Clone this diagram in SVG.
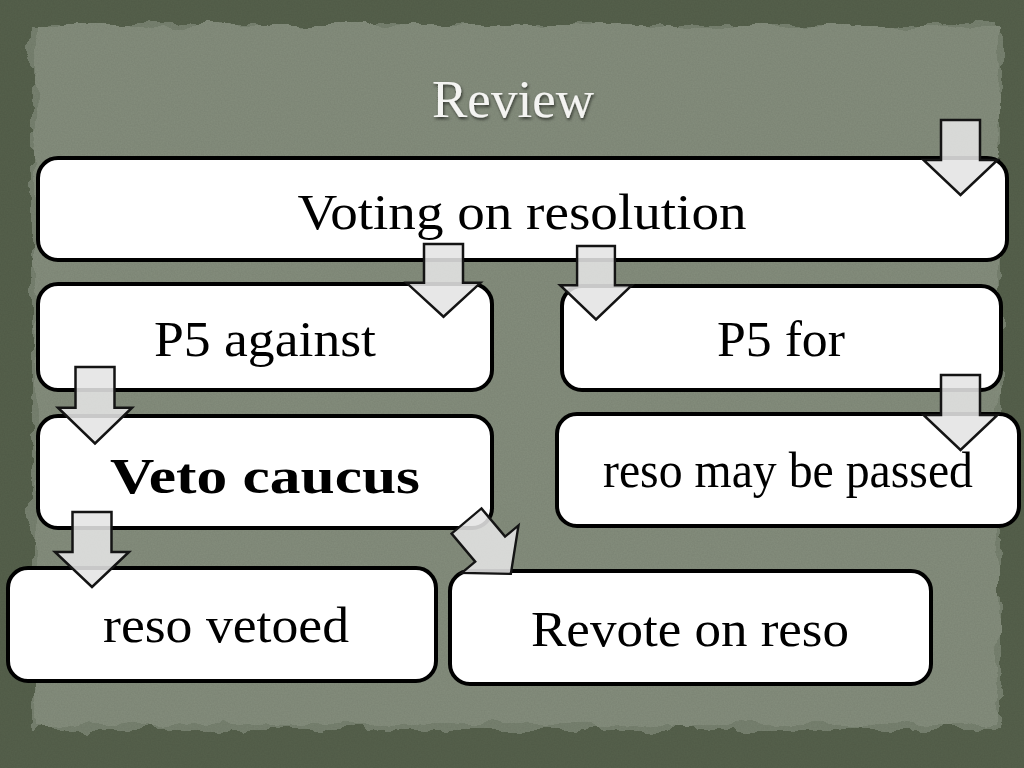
<svg xmlns="http://www.w3.org/2000/svg" width="1024" height="768" viewBox="0 0 1024 768">
  <defs>
    <filter id="rough" x="-5%" y="-5%" width="110%" height="110%">
      <feTurbulence type="fractalNoise" baseFrequency="0.025" numOctaves="4" seed="7" result="n"/>
      <feDisplacementMap in="SourceGraphic" in2="n" scale="16" xChannelSelector="R" yChannelSelector="G"/>
    </filter>
    <filter id="rough2" x="-5%" y="-5%" width="110%" height="110%">
      <feTurbulence type="fractalNoise" baseFrequency="0.03" numOctaves="4" seed="11" result="n"/>
      <feDisplacementMap in="SourceGraphic" in2="n" scale="20" xChannelSelector="R" yChannelSelector="G"/>
    </filter>
    <filter id="grain" x="0" y="0" width="100%" height="100%">
      <feTurbulence type="fractalNoise" baseFrequency="0.7" numOctaves="2" seed="3" result="t"/>
      <feColorMatrix in="t" type="matrix" values="0 0 0 0 0  0 0 0 0 0  0 0 0 0 0  0 0 0 0.08 0"/>
    </filter>
    <filter id="shadow" x="-10%" y="-20%" width="120%" height="140%">
      <feGaussianBlur in="SourceAlpha" stdDeviation="1.5"/>
      <feOffset dx="1" dy="2" result="b"/>
      <feColorMatrix in="b" type="matrix" values="0 0 0 0 0  0 0 0 0 0  0 0 0 0 0  0 0 0 0.6 0" result="s"/>
      <feMerge><feMergeNode in="s"/><feMergeNode in="SourceGraphic"/></feMerge>
    </filter>
    <path id="arrow" d="M -19.5 0 L 19.5 0 L 19.5 40 L 37 40 L 0 75 L -37 40 L -19.5 40 Z"/>
  </defs>
  <style>
    .box { fill: #ffffff; stroke: #000000; stroke-width: 4; }
    .lbl { font-family: "Liberation Serif", "Times New Roman", serif; fill: #000000; text-anchor: middle; font-size: 50px; }
    .arr { fill: #e4e4e4; fill-opacity: 0.88; stroke: #141414; stroke-width: 2.5; stroke-linejoin: miter; }
    .title { font-family: "Liberation Serif", "Times New Roman", serif; fill: #f4f4f2; font-size: 52px; text-anchor: middle; }
  </style>

  <g id="background">
    <rect x="0" y="0" width="1024" height="768" fill="#56614c"/>
    <rect x="32" y="26" width="968" height="704" fill="#78826f" filter="url(#rough2)"/>
    <rect x="36" y="26" width="962" height="698" fill="#858e7d" filter="url(#rough)"/>
    <rect x="0" y="0" width="1024" height="768" fill="#000" filter="url(#grain)"/>
  </g>

  <g id="title">
    <text class="title" x="513" y="117" textLength="162" lengthAdjust="spacingAndGlyphs" filter="url(#shadow)">Review</text>
  </g>

  <g id="node-voting">
    <rect class="box" x="38" y="158" width="969" height="102" rx="20"/>
    <text class="lbl" x="522" y="229" textLength="449" lengthAdjust="spacingAndGlyphs">Voting on resolution</text>
  </g>

  <g id="node-p5-against">
    <rect class="box" x="38" y="284" width="454" height="106" rx="20"/>
    <text class="lbl" x="265" y="356" textLength="222" lengthAdjust="spacingAndGlyphs">P5 against</text>
  </g>

  <g id="node-p5-for">
    <rect class="box" x="562" y="286" width="439" height="104" rx="20"/>
    <text class="lbl" x="781" y="356" textLength="128" lengthAdjust="spacingAndGlyphs">P5 for</text>
  </g>

  <g id="node-veto">
    <rect class="box" x="38" y="416" width="454" height="112" rx="20"/>
    <text class="lbl" x="265" y="493" font-weight="bold" font-size="56" textLength="310" lengthAdjust="spacingAndGlyphs">Veto caucus</text>
  </g>

  <g id="node-passed">
    <rect class="box" x="557" y="414" width="462" height="112" rx="20"/>
    <text class="lbl" x="788" y="487" font-size="44" textLength="370" lengthAdjust="spacingAndGlyphs">reso may be passed</text>
  </g>

  <g id="node-vetoed">
    <rect class="box" x="8" y="568" width="428" height="113" rx="20"/>
    <text class="lbl" x="226" y="642" textLength="246" lengthAdjust="spacingAndGlyphs">reso vetoed</text>
  </g>

  <g id="node-revote">
    <rect class="box" x="450" y="571" width="481" height="113" rx="20"/>
    <text class="lbl" x="690" y="646" textLength="318" lengthAdjust="spacingAndGlyphs">Revote on reso</text>
  </g>

  <g id="connectors">
    <use href="#arrow" class="arr" transform="translate(960.5,120)"/>
    <use href="#arrow" class="arr" transform="translate(443.5,244) scale(1,0.97)"/>
    <use href="#arrow" class="arr" transform="translate(596,246) scale(0.97,0.98)"/>
    <use href="#arrow" class="arr" transform="translate(95,367) scale(1,1.02)"/>
    <use href="#arrow" class="arr" transform="translate(960.5,375)"/>
    <use href="#arrow" class="arr" transform="translate(92,512)"/>
    <use href="#arrow" class="arr" transform="translate(466.5,521) rotate(-40) scale(1,0.92)"/>
  </g>
</svg>
